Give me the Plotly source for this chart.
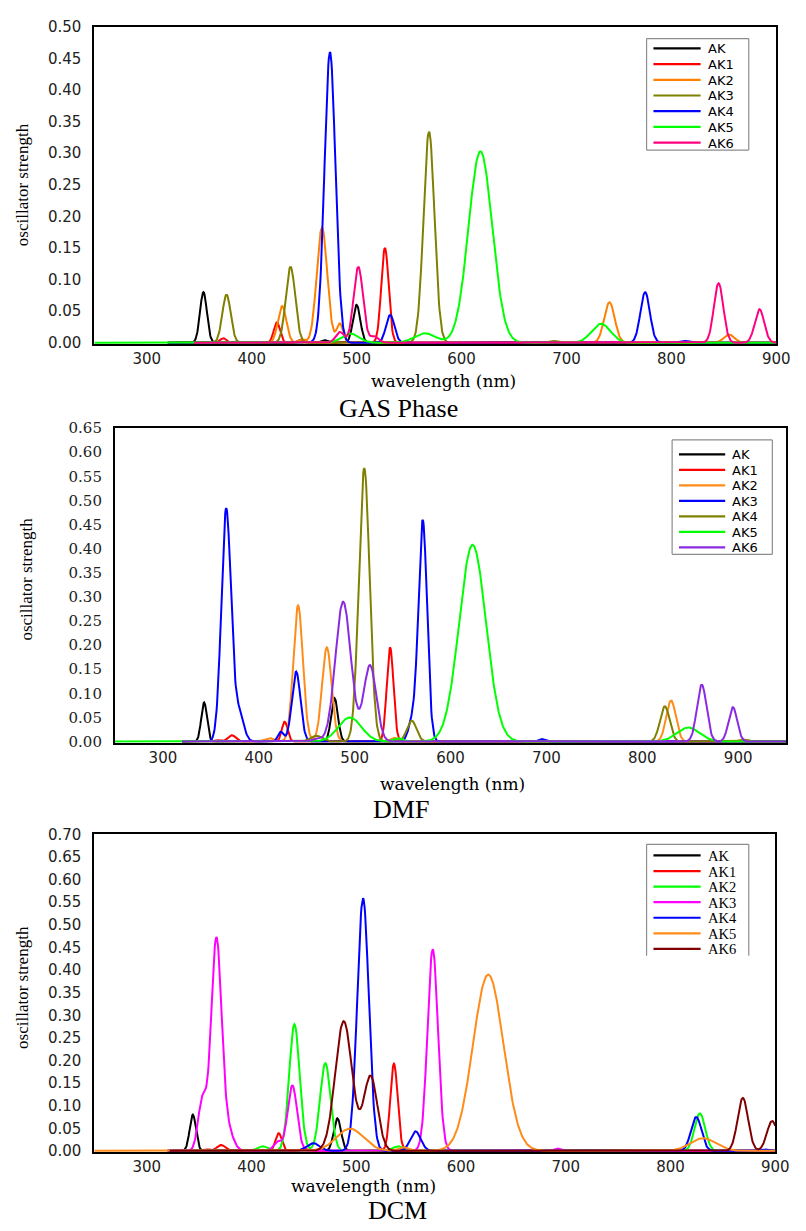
import numpy as np
import plotly.graph_objects as go

# ---------------- data ----------------
series_names = ["AK", "AK1", "AK2", "AK3", "AK4", "AK5", "AK6"]
x_ticks = [300, 400, 500, 600, 700, 800, 900]

# GAS phase: band centres (nm), oscillator strengths, band widths (nm, sigma)
gas_nm = [
    [354, 385, 469, 500],
    [373, 424, 447, 527],
    [429, 448, 467, 484, 741, 855],
    [376, 437, 569, 687],
    [474.6, 532, 775, 812],
    [494, 565, 618, 733],
    [484, 501.6, 517, 845, 884],
]
gas_f = [
    [0.080, 0.002, 0.004, 0.060],
    [0.007, 0.032, 0.005, 0.150],
    [0.058, 0.005, 0.182, 0.030, 0.064, 0.013],
    [0.076, 0.120, 0.334, 0.003],
    [0.460, 0.044, 0.080, 0.003],
    [0.0145, 0.015, 0.303, 0.030],
    [0.017, 0.120, 0.010, 0.094, 0.053],
]
gas_w = [
    [3.3, 3, 3, 3.5],
    [3, 3, 3, 3.5],
    [4, 3, 5, 3, 5, 5],
    [4, 4.5, 5.2, 4],
    [5.2, 4, 4.5, 4],
    [8, 10, 11.3, 9],
    [4, 4.5, 4, 4.5, 4.5],
]
gas_start = [320, 320, 320, 320, 320, 250, 345]
gas_end = 900

# DMF
dmf_nm = [
    [343, 479],
    [357, 372, 427, 537],
    [411, 441, 471, 541, 830, 905],
    [366, 379, 423, 439, 560, 571, 695],
    [460, 510, 559.5, 823.5, 905],
    [495, 545, 623, 848],
    [460, 488, 516, 862, 894.5],
]
dmf_f = [
    [0.081, 0.090],
    [0.003, 0.013, 0.041, 0.195],
    [0.007, 0.282, 0.195, 0.008, 0.085, 0.003],
    [0.482, 0.060, 0.020, 0.145, 0.040, 0.459, 0.005],
    [0.012, 0.567, 0.043, 0.073, 0.004],
    [0.050, 0.007, 0.408, 0.029],
    [0.005, 0.290, 0.158, 0.118, 0.071],
]
dmf_w = [
    [3, 3.5],
    [3, 4, 3, 3.5],
    [5, 5, 5, 4, 5, 4],
    [5, 5, 3, 4.5, 4, 4.5, 3],
    [6, 5.6, 5, 5, 4],
    [12, 5, 14, 12],
    [5, 8, 6.5, 5, 4.5],
]
dmf_start = [320, 320, 320, 320, 320, 250, 320]
dmf_end = 950

# DCM
dcm_nm = [
    [344, 482],
    [357, 371, 426, 450, 536],
    [411, 441, 470.5, 540, 828],
    [353, 366.5, 378, 425, 439, 573, 692],
    [459, 506.5, 556.6, 824.5, 890],
    [494, 545, 626, 831],
    [488, 513.7, 869, 897],
]
dcm_f = [
    [0.080, 0.072],
    [0.003, 0.013, 0.039, 0.005, 0.193],
    [0.010, 0.280, 0.194, 0.010, 0.083],
    [0.110, 0.470, 0.040, 0.020, 0.145, 0.446, 0.005],
    [0.017, 0.559, 0.043, 0.075, 0.003],
    [0.049, 0.008, 0.390, 0.028],
    [0.287, 0.165, 0.117, 0.066],
]
dcm_w = [
    [3, 3.5],
    [3, 4, 3, 3, 3.5],
    [5, 5, 5, 5, 5],
    [4, 5, 5, 4, 4.5, 5, 3],
    [6, 5.5, 5, 5, 4],
    [13, 5, 14.5, 12],
    [8, 6.5, 5, 5],
]
dcm_start = [320, 320, 320, 320, 320, 250, 322]
dcm_end = 900

gas_colors = ["#000000", "#FF0000", "#FF8000", "#808000", "#0000FF", "#00FF00", "#FF0080"]
dmf_colors = ["#000000", "#FF0000", "#FF8C1A", "#0000FF", "#808000", "#00FF00", "#8A2BE2"]
dcm_colors = ["#000000", "#FF0000", "#00FF00", "#FF00FF", "#0000FF", "#FF8C1A", "#800000"]


def spectrum(centres, strengths, widths, start, end):
    x = np.arange(start, end + 0.25, 0.5)
    y = np.zeros_like(x)
    for c, f, w in zip(centres, strengths, widths):
        y += f * np.exp(-((x - c) ** 2) / (2 * w ** 2))
    return x, y


W, H = 806, 1231


def px(x):
    return x / W


def py(y):
    return 1 - y / H


panels = [
    dict(nm=gas_nm, f=gas_f, w=gas_w, start=gas_start, end=gas_end, colors=gas_colors,
         xr=[250, 900], ymax=0.5, ax="",
         dom_x=[96, 790], dom_y=[18, 340], ytickfont="DejaVu Sans",
         leg=dict(box=[658, 762, 30, 143], row0=40, step=15.9, lx=[665, 713], tx=718,
                  font=dict(family="DejaVu Sans", size=13, color="black"), bottom=True)),
    dict(nm=dmf_nm, f=dmf_f, w=dmf_w, start=dmf_start, end=dmf_end, colors=dmf_colors,
         xr=[250, 950], ymax=0.65, ax="2",
         dom_x=[117, 800], dom_y=[425, 744], ytickfont="DejaVu Serif",
         leg=dict(box=[684, 786, 437, 553], row0=451.7, step=15.7, lx=[691, 738], tx=743,
                  font=dict(family="DejaVu Sans", size=13, color="black"), bottom=True)),
    dict(nm=dcm_nm, f=dcm_f, w=dcm_w, start=dcm_start, end=dcm_end, colors=dcm_colors,
         xr=[250, 900], ymax=0.70, ax="3",
         dom_x=[96, 789], dom_y=[837, 1159], ytickfont="DejaVu Sans",
         leg=dict(box=[658, 762, 847, 960], row0=858.3, step=15.8, lx=[665, 713], tx=718,
                  font=dict(family="Liberation Serif", size=14.5, color="black"), bottom=False)),
]

fig = go.Figure()
for p in panels:
    for i, name in enumerate(series_names):
        x, y = spectrum(p["nm"][i], p["f"][i], p["w"][i], p["start"][i], p["end"])
        fig.add_trace(go.Scatter(
            x=x, y=y, mode="lines", name=name, showlegend=False,
            line=dict(color=p["colors"][i], width=2),
            xaxis="x" + p["ax"], yaxis="y" + p["ax"],
        ))

layout = dict(
    width=W, height=H, margin=dict(l=0, r=0, t=0, b=0),
    paper_bgcolor="white", plot_bgcolor="white", showlegend=False,
)
common_axis = dict(showgrid=False, zeroline=False, showline=True, mirror=True,
                   linecolor="black", linewidth=2, ticks="", layer="below traces")
for p in panels:
    layout["xaxis" + p["ax"]] = dict(
        common_axis, domain=[px(p["dom_x"][0]), px(p["dom_x"][1])],
        range=p["xr"], tickvals=x_ticks, anchor="y" + p["ax"],
        tickfont=dict(family="DejaVu Sans", size=15, color="#222"),
        ticklabelstandoff=0,
    )
    layout["yaxis" + p["ax"]] = dict(
        common_axis, domain=[py(p["dom_y"][1]), py(p["dom_y"][0])],
        range=[-0.0025, p["ymax"]], dtick=0.05, tick0=0, tickformat=".2f",
        anchor="x" + p["ax"],
        tickfont=dict(family=p["ytickfont"], size=15, color="#222"),
        ticklabelstandoff=8,
    )

# legends drawn in paper space from the series names and colours
shapes = []
ann = []
for p in panels:
    lg = p["leg"]
    x0, x1, y0, y1 = lg["box"]
    edges = [(x0, y0, x1, y0), (x0, y0, x0, y1), (x1, y0, x1, y1)]
    if lg["bottom"]:
        edges.append((x0, y1, x1, y1))
    shapes.append(dict(type="rect", xref="paper", yref="paper", x0=px(x0), x1=px(x1),
                       y0=py(y1), y1=py(y0), fillcolor="white", line=dict(width=0),
                       layer="above"))
    for (ax0, ay0, ax1, ay1) in edges:
        shapes.append(dict(type="line", xref="paper", yref="paper", x0=px(ax0), y0=py(ay0),
                           x1=px(ax1), y1=py(ay1), line=dict(color="#8c8c8c", width=1.2),
                           layer="above"))
    for i, name in enumerate(series_names):
        yy = lg["row0"] + i * lg["step"]
        shapes.append(dict(type="line", xref="paper", yref="paper",
                           x0=px(lg["lx"][0]), x1=px(lg["lx"][1]), y0=py(yy), y1=py(yy),
                           line=dict(color=p["colors"][i], width=2.2), layer="above"))
        ann.append(dict(text=name, x=px(lg["tx"]), y=py(yy + 0.5), xref="paper", yref="paper",
                        showarrow=False, xanchor="left", yanchor="middle",
                        font=lg["font"]))

serif = "Liberation Serif"
for (cx, cy) in [(451, 377), (460, 786), (370, 1193)]:
    ann.append(dict(text="wavelength (nm)", x=px(cx), y=py(cy), xref="paper", yref="paper",
                    showarrow=False, xanchor="center", yanchor="middle",
                    font=dict(family="DejaVu Serif", size=17, color="black")))
for (txt, cx, cy) in [("GAS Phase", 406, 405), ("DMF", 408, 812), ("DCM", 405, 1218)]:
    ann.append(dict(text=txt, x=px(cx), y=py(cy), xref="paper", yref="paper",
                    showarrow=False, xanchor="center", yanchor="middle",
                    font=dict(family=serif, size=26, color="black")))
for (cx, cy) in [(23, 178), (26, 578), (23, 992)]:
    ann.append(dict(text="oscillator strength", x=px(cx), y=py(cy), xref="paper", yref="paper",
                    showarrow=False, xanchor="center", yanchor="middle", textangle=-90,
                    font=dict(family=serif, size=17, color="black")))
layout["annotations"] = ann
layout["shapes"] = shapes

fig.update_layout(**layout)
fig.write_html("out.html", config={"displayModeBar": False},
               post_script="document.body.style.margin='0';")
